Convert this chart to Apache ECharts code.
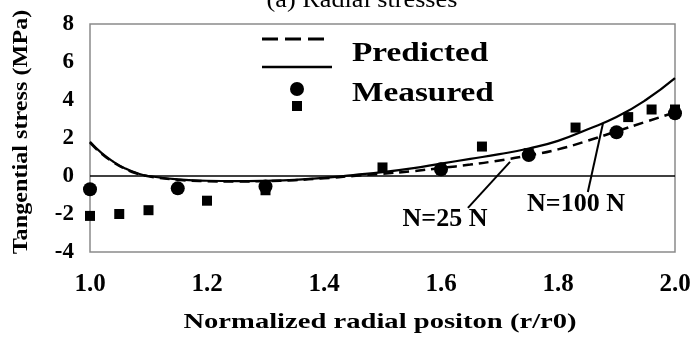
<!DOCTYPE html>
<html>
<head>
<meta charset="utf-8">
<script src="https://cdn.jsdelivr.net/npm/echarts@6/dist/echarts.min.js"></script>
<style>
  html, body { margin: 0; padding: 0; background: #fff; }
  #chart { width: 694px; height: 339px; }
</style>
</head>
<body>
<div id="chart"></div>
<script>
// Normalized radial position r/r0 at which the predicted curves are sampled
const radialPos = [1.00, 1.02, 1.04, 1.06, 1.08, 1.10, 1.15, 1.20, 1.25, 1.30, 1.35, 1.40,
                   1.45, 1.50, 1.55, 1.60, 1.65, 1.70, 1.75, 1.80, 1.85, 1.90, 1.95, 2.00];
// Predicted tangential stress (MPa), N = 100 N
const predicted100 = [1.80, 1.20, 0.75, 0.40, 0.15, 0.00, -0.18, -0.25, -0.27, -0.25, -0.20, -0.10,
                      0.05, 0.20, 0.40, 0.65, 0.90, 1.15, 1.45, 1.85, 2.45, 3.10, 4.00, 5.15];
// Predicted tangential stress (MPa), N = 25 N
const predicted25 = [1.75, 1.17, 0.72, 0.38, 0.13, -0.02, -0.20, -0.27, -0.29, -0.27, -0.22, -0.12,
                     0.00, 0.12, 0.25, 0.42, 0.60, 0.82, 1.08, 1.40, 1.85, 2.35, 2.85, 3.35];

// Measured values (circles)
const measCircleX = [1.00, 1.15, 1.30, 1.60, 1.75, 1.90, 2.00];
const measCircleY = [-0.70, -0.65, -0.55, 0.35, 1.10, 2.30, 3.30];
// Measured values (squares)
const measSquareX = [1.00, 1.05, 1.10, 1.20, 1.30, 1.50, 1.60, 1.67, 1.75, 1.83, 1.92, 1.96, 2.00];
const measSquareY = [-2.10, -2.00, -1.80, -1.30, -0.75, 0.45, 0.35, 1.55, 1.20, 2.55, 3.10, 3.50, 3.50];

const xTickLabels = ['1.0', '1.2', '1.4', '1.6', '1.8', '2.0'];
const yTickLabels = ['-4', '-2', '0', '2', '4', '6', '8'];

const zip = (xs, ys) => xs.map((x, i) => [x, ys[i]]);
const SERIF = "Liberation Serif";

const chart = echarts.init(document.getElementById('chart'), null, { renderer: 'canvas' });

// Bold serif text element, optionally stretched along its baseline
function text(str, x, y, size, opts) {
  opts = opts || {};
  return {
    type: 'text',
    x: x, y: y,
    rotation: opts.rotation || 0,
    scaleX: opts.scaleX || 1,
    silent: true,
    style: {
      text: str,
      fill: '#000',
      fontFamily: SERIF,
      fontWeight: opts.weight || 'bold',
      fontSize: size,
      textAlign: opts.align || 'center',
      textVerticalAlign: 'middle',
      align: opts.align || 'center',
      verticalAlign: 'middle'
    }
  };
}

const option = {
  animation: false,
  backgroundColor: '#fff',
  textStyle: { fontFamily: SERIF },
  grid: {
    left: 90, top: 24, right: 19, bottom: 87,
    show: true, borderColor: '#8a8a8a', borderWidth: 1.5
  },
  xAxis: {
    type: 'value', min: 1, max: 2, interval: 0.2,
    axisLine: { show: false },
    axisTick: { show: false },
    splitLine: { show: false },
    axisLabel: {
      margin: 20,
      color: '#000', fontFamily: SERIF, fontWeight: 'bold', fontSize: 25,
      formatter: v => xTickLabels[Math.round((v - 1) / 0.2)]
    }
  },
  yAxis: {
    type: 'value', min: -4, max: 8, interval: 2,
    axisLine: { show: false },
    axisTick: { show: false },
    splitLine: { show: false },
    axisLabel: {
      margin: 16,
      color: '#000', fontFamily: SERIF, fontWeight: 'bold', fontSize: 23,
      formatter: v => yTickLabels[Math.round((v + 4) / 2)]
    }
  },
  series: [
    {
      name: 'N=100 N', type: 'line', smooth: true, showSymbol: false,
      data: zip(radialPos, predicted100),
      lineStyle: { color: '#000', width: 2.2 },
      markLine: {
        silent: true, symbol: 'none', animation: false,
        label: { show: false },
        lineStyle: { color: '#000', width: 1.5, type: 'solid' },
        data: [
          { yAxis: 0 },
          [{ coord: [1.646, -1.68], lineStyle: { width: 2 } }, { coord: [1.718, 0.74] }],
          [{ coord: [1.851, -0.84], lineStyle: { width: 2 } }, { coord: [1.877, 2.79] }]
        ]
      }
    },
    {
      name: 'N=25 N', type: 'line', smooth: true, showSymbol: false,
      data: zip(radialPos, predicted25),
      lineStyle: { color: '#000', width: 2.5, type: [10, 6] }
    },
    {
      name: 'Measured circles', type: 'scatter', symbol: 'circle', symbolSize: 14,
      data: zip(measCircleX, measCircleY),
      itemStyle: { color: '#000', opacity: 1 }
    },
    {
      name: 'Measured squares', type: 'scatter', symbol: 'rect', symbolSize: 10,
      data: zip(measSquareX, measSquareY),
      itemStyle: { color: '#000', opacity: 1 }
    }
  ],
  graphic: [
    // title
    text('(a) Radial stresses', 362, 1, 23, { weight: 'normal', scaleX: 1.14 }),
    // axis titles
    text('Tangential stress (MPa)', 21, 132, 22, { rotation: Math.PI / 2, scaleX: 1.1 }),
    text('Normalized radial positon (r/r0)', 380, 322, 22, { scaleX: 1.3 }),
    // legend
    { type: 'line', silent: true, shape: { x1: 262, y1: 39, x2: 324, y2: 39 },
      style: { stroke: '#000', lineWidth: 3, lineDash: [16, 7] } },
    { type: 'line', silent: true, shape: { x1: 262, y1: 67, x2: 332, y2: 67 },
      style: { stroke: '#000', lineWidth: 2.5 } },
    { type: 'circle', silent: true, shape: { cx: 297, cy: 89, r: 7 }, style: { fill: '#000' } },
    { type: 'rect', silent: true, shape: { x: 292, y: 101, width: 10, height: 10 }, style: { fill: '#000' } },
    text('Predicted', 352, 54, 28, { align: 'left', scaleX: 1.19 }),
    text('Measured', 352, 94, 28, { align: 'left', scaleX: 1.19 }),
    // curve annotations
    text('N=25 N', 445, 220, 25, { scaleX: 1.04 }),
    text('N=100 N', 576, 205, 25, { scaleX: 1.04 })
  ]
};

chart.setOption(option);
</script>
</body>
</html>
